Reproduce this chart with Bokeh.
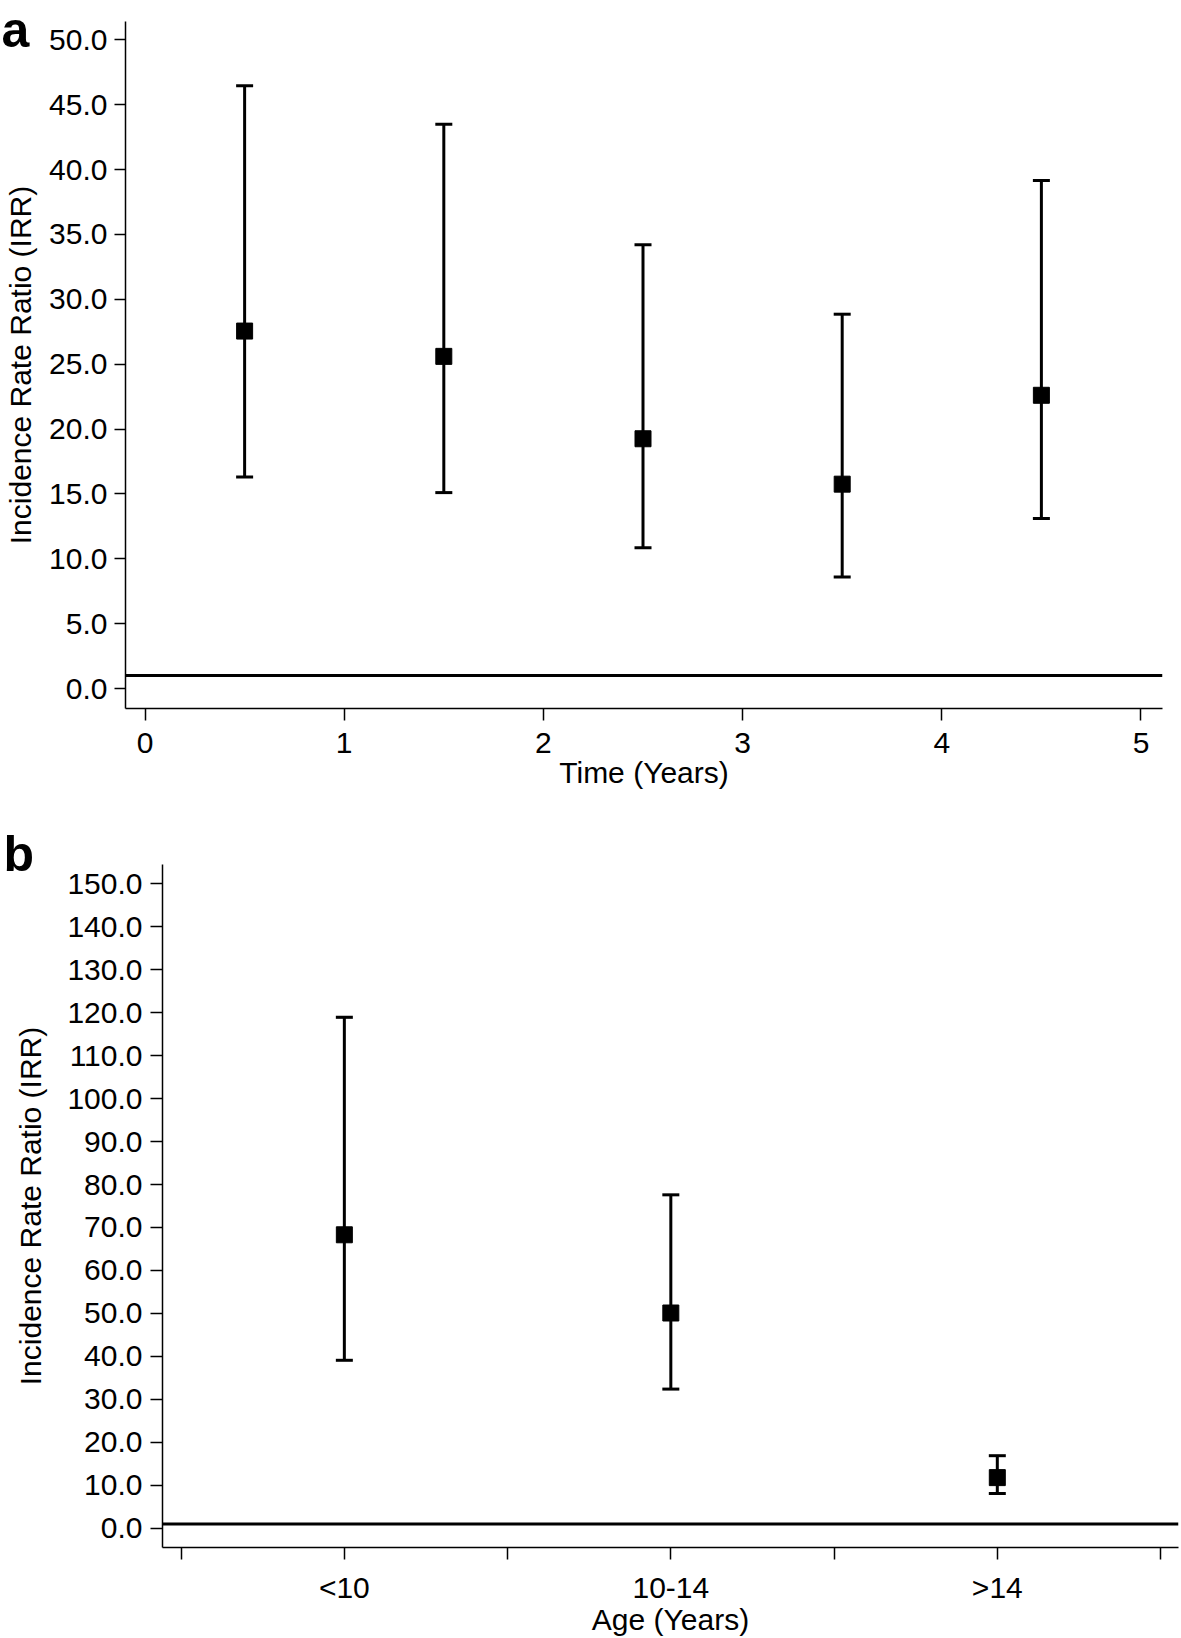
from bokeh.plotting import figure
from bokeh.models import (ColumnDataSource, FixedTicker, NumeralTickFormatter,
                          Span, Label)
from bokeh.embed import file_html
from bokeh.resources import INLINE

# ---------------- data ----------------
# Panel a: IRR by time (years)
time_mid = [0.5, 1.5, 2.5, 3.5, 4.5]
time_irr = [27.55, 25.6, 19.25, 15.75, 22.6]
time_lower = [16.3, 15.1, 10.85, 8.6, 13.1]
time_upper = [46.45, 43.5, 34.2, 28.85, 39.15]
time_ticks = [0, 1, 2, 3, 4, 5]
irr_ticks_a = [0, 5, 10, 15, 20, 25, 30, 35, 40, 45, 50]

# Panel b: IRR by age group
age_groups = ["<10", "10-14", ">14"]
age_irr = [68.3, 50.1, 11.8]
age_lower = [39.1, 32.4, 8.1]
age_upper = [118.9, 77.6, 16.9]
irr_ticks_b = [0, 10, 20, 30, 40, 50, 60, 70, 80, 90, 100, 110, 120, 130, 140, 150]

ref_irr = 1.0  # reference line (IRR = 1)

FONT = "Liberation Sans"
FS = "30px"


def style(p):
    p.xgrid.grid_line_color = None
    p.ygrid.grid_line_color = None
    p.outline_line_color = None
    p.background_fill_color = "white"
    p.border_fill_color = "white"
    for ax in (p.xaxis[0], p.yaxis[0]):
        ax.axis_line_color = "black"
        ax.axis_line_width = 1.5
        ax.major_tick_line_color = "black"
        ax.major_tick_line_width = 1.5
        ax.major_tick_in = 0
        ax.minor_tick_line_color = None
        ax.major_label_text_font = FONT
        ax.major_label_text_font_size = FS
        ax.major_label_text_color = "black"
        ax.axis_label_text_font = FONT
        ax.axis_label_text_font_size = FS
        ax.axis_label_text_font_style = "normal"
        ax.axis_label_text_color = "black"


def draw(p, xs, mid, lo, hi):
    src = ColumnDataSource(dict(x=xs, mid=mid, lo=lo, hi=hi))
    p.segment(x0="x", y0="lo", x1="x", y1="hi", source=src,
              line_color="black", line_width=3)
    p.scatter(x="x", y="lo", source=src, marker="dash", size=17,
              line_color="black", line_width=3)
    p.scatter(x="x", y="hi", source=src, marker="dash", size=17,
              line_color="black", line_width=3)
    p.scatter(x="x", y="mid", source=src, marker="square", size=16,
              fill_color="black", line_color="black", line_width=1)
    p.add_layout(Span(location=ref_irr, dimension="width",
                      line_color="black", line_width=3))


# ---------------- panel a ----------------
pa = figure(width=1181, height=808, output_backend="svg", toolbar_location=None,
            x_range=(-0.098, 5.108), y_range=(-1.54, 51.41),
            min_border_left=125, min_border_right=19,
            min_border_top=21, min_border_bottom=100)
style(pa)
draw(pa, time_mid, time_irr, time_lower, time_upper)
pa.xaxis.ticker = FixedTicker(ticks=time_ticks)
pa.yaxis.ticker = FixedTicker(ticks=irr_ticks_a)
pa.yaxis.formatter = NumeralTickFormatter(format="0.0")
pa.xaxis.axis_label = "Time (Years)"
pa.yaxis.axis_label = "Incidence Rate Ratio (IRR)"
pa.xaxis.major_tick_out = 12
pa.yaxis.major_tick_out = 11
pa.xaxis.major_label_standoff = 12
pa.yaxis.major_label_standoff = 7
pa.xaxis.axis_label_standoff = 0
pa.yaxis.axis_label_standoff = 9
# panel letter "a" as the plot title, pulled down beside the axis top
pa.title.text = "a"
pa.title.text_font = FONT
pa.title.text_font_size = "50px"
pa.title.text_font_style = "bold"
pa.title.text_color = "black"
pa.title.align = "left"
pa.title.vertical_align = "bottom"
pa.title.offset = -124
pa.title.standoff = -72

# ---------------- panel b ----------------
age_x = [2 * i + 1 for i in range(len(age_groups))]
pb = figure(width=1181, height=830, output_backend="svg", toolbar_location=None,
            x_range=(-0.114, 6.11), y_range=(-4.46, 154.46),
            min_border_left=162, min_border_right=3,
            min_border_top=56, min_border_bottom=86)
style(pb)
draw(pb, age_x, age_irr, age_lower, age_upper)
pb.xaxis.ticker = FixedTicker(ticks=list(range(0, 2 * len(age_groups) + 1)))
overrides = {i: "" for i in range(0, 2 * len(age_groups) + 1)}
for xv, g in zip(age_x, age_groups):
    overrides[xv] = g
pb.xaxis.major_label_overrides = overrides
pb.yaxis.ticker = FixedTicker(ticks=irr_ticks_b)
pb.yaxis.formatter = NumeralTickFormatter(format="0.0")
pb.xaxis.axis_label = "Age (Years)"
pb.yaxis.axis_label = "Incidence Rate Ratio (IRR)"
pb.xaxis.major_tick_out = 12
pb.yaxis.major_tick_out = 12
pb.xaxis.major_label_standoff = 11
pb.yaxis.major_label_standoff = 8
pb.xaxis.axis_label_standoff = -4
pb.yaxis.axis_label_standoff = 17
pb.add_layout(Label(x=-159, y=11, x_units="screen", y_units="screen",
                    text="b", text_font=FONT, text_font_size="50px",
                    text_font_style="bold", text_color="black",
                    text_baseline="alphabetic", text_align="left"),
              "above")

open("out.html", "w").write(file_html([pa, pb], INLINE))
